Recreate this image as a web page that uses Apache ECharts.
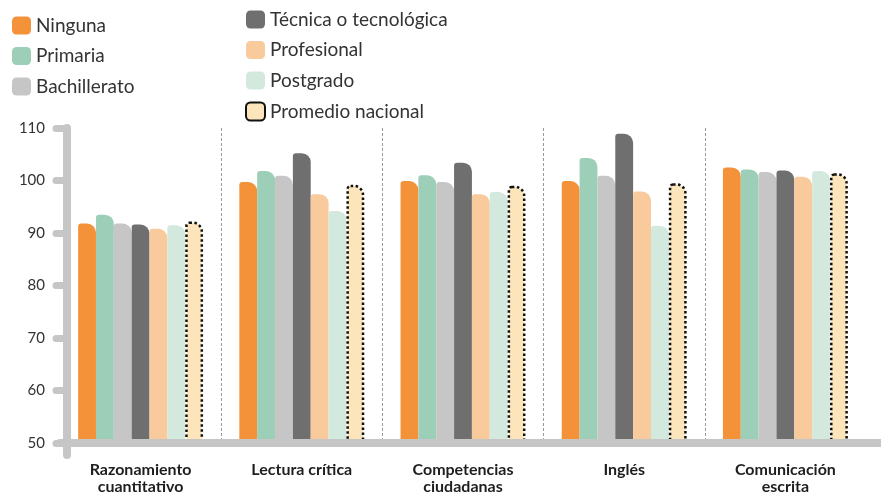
<!DOCTYPE html>
<html>
<head>
<meta charset="utf-8">
<script src="https://cdn.jsdelivr.net/npm/echarts@6/dist/echarts.min.js"></script>
<style>
  html, body { margin: 0; padding: 0; background: #fff; }
  #main { width: 881px; height: 495px; }
</style>
</head>
<body>
<div id="main"></div>
<script>
// categorías del eje x
const categories = ["Razonamiento\ncuantitativo", "Lectura crítica", "Competencias\nciudadanas", "Inglés", "Comunicación\nescrita"];

// puntajes por nivel educativo
const ninguna      = [91.8, 99.7, 99.9, 99.9, 102.5];
const primaria     = [93.5, 101.8, 101.0, 104.3, 102.1];
const bachillerato = [91.8, 100.9, 99.7, 100.9, 101.6];
const tecnica      = [91.6, 105.2, 103.4, 108.9, 101.9];
const profesional  = [90.8, 97.4, 97.4, 97.9, 100.7];
const postgrado    = [91.5, 94.2, 97.8, 91.4, 101.8];
const promedio     = [92.2, 99.2, 99.0, 99.5, 101.4];

const yTicks = [50, 60, 70, 80, 90, 100, 110];

const gris = "#c6c6c6";
const gridLeft = 60, yOffset = -7;

const chartDom = document.getElementById("main");
const myChart = echarts.init(chartDom);

function barSerie(name, data, color, extra) {
  return Object.assign({
    name: name,
    type: "bar",
    data: data,
    barGap: "0%",
    barCategoryGap: "22.5%",
    itemStyle: { color: color, borderRadius: [3, 9, 0, 0] }
  }, extra || {});
}

const legendText = { fontFamily: "Lato", fontSize: 19, color: "#333" };

const option = {
  animation: false,
  grid: { left: gridLeft, right: 15, top: 128, bottom: 52 },
  legend: [
    {
      data: ["Ninguna", "Primaria", "Bachillerato"],
      orient: "vertical", left: 7, top: 11,
      itemWidth: 19, itemHeight: 18, itemGap: 11.5,
      icon: "roundRect", textStyle: legendText
    },
    {
      data: ["Técnica o tecnológica", "Profesional", "Postgrado", "Promedio nacional"],
      orient: "vertical", left: 240, top: 5,
      itemWidth: 19, itemHeight: 18, itemGap: 11.5,
      icon: "roundRect", textStyle: legendText
    }
  ],
  xAxis: {
    type: "category",
    data: categories,
    z: 5,
    axisLine: { lineStyle: { color: gris, width: 8, cap: "round" } },
    axisTick: {
      length: 10,
      interval: function (i) { return i !== 0; },
      lineStyle: { color: gris, width: 4, cap: "round" }
    },
    splitLine: {
      show: true, showMinLine: false, showMaxLine: false,
      lineStyle: { color: "#9a9a9a", width: 1, type: [3, 2] }
    },
    axisLabel: {
      margin: 18, fontFamily: "Lato", fontWeight: "bold", fontSize: 16,
      color: "#1e1e1e", lineHeight: 17
    }
  },
  yAxis: {
    type: "value",
    min: yTicks[0], max: yTicks[yTicks.length - 1], interval: 10,
    offset: yOffset,
    z: 5,
    axisLine: { show: true, lineStyle: { color: gris, width: 8, cap: "round" } },
    axisTick: { show: true, length: 11, lineStyle: { color: gris, width: 7, cap: "round" } },
    splitLine: { show: false },
    axisLabel: { margin: 22, fontFamily: "Lato", fontSize: 15, color: "#333" }
  },
  series: [
    barSerie("Ninguna", ninguna, "#f4923a"),
    barSerie("Primaria", primaria, "#9dcfb8"),
    barSerie("Bachillerato", bachillerato, "#c6c6c6"),
    barSerie("Técnica o tecnológica", tecnica, "#6f6f6f"),
    barSerie("Profesional", profesional, "#f9ca9c"),
    barSerie("Postgrado", postgrado, "#d3e9de"),
    barSerie("Promedio nacional", promedio, "#fde5bb", {
      itemStyle: {
        color: "#fde5bb", borderColor: "#111", borderWidth: 2.5,
        borderType: "dotted", borderRadius: [3, 9, 0, 0]
      }
    })
  ]
};

option && myChart.setOption(option);

// prolongaciones de los ejes (eje y hacia abajo, eje x hasta el borde)
const y50 = myChart.convertToPixel({ yAxisIndex: 0 }, yTicks[0]);
const yAxisX = gridLeft - yOffset;
myChart.setOption({
  graphic: [
    {
      type: "line", z: 1,
      shape: { x1: yAxisX, y1: y50, x2: yAxisX, y2: y50 + 12 },
      style: { stroke: gris, lineWidth: 8, lineCap: "round" }
    },
    {
      type: "line", z: 1,
      shape: { x1: 860, y1: y50, x2: 885, y2: y50 },
      style: { stroke: gris, lineWidth: 8, lineCap: "round" }
    }
  ]
});
</script>
</body>
</html>
